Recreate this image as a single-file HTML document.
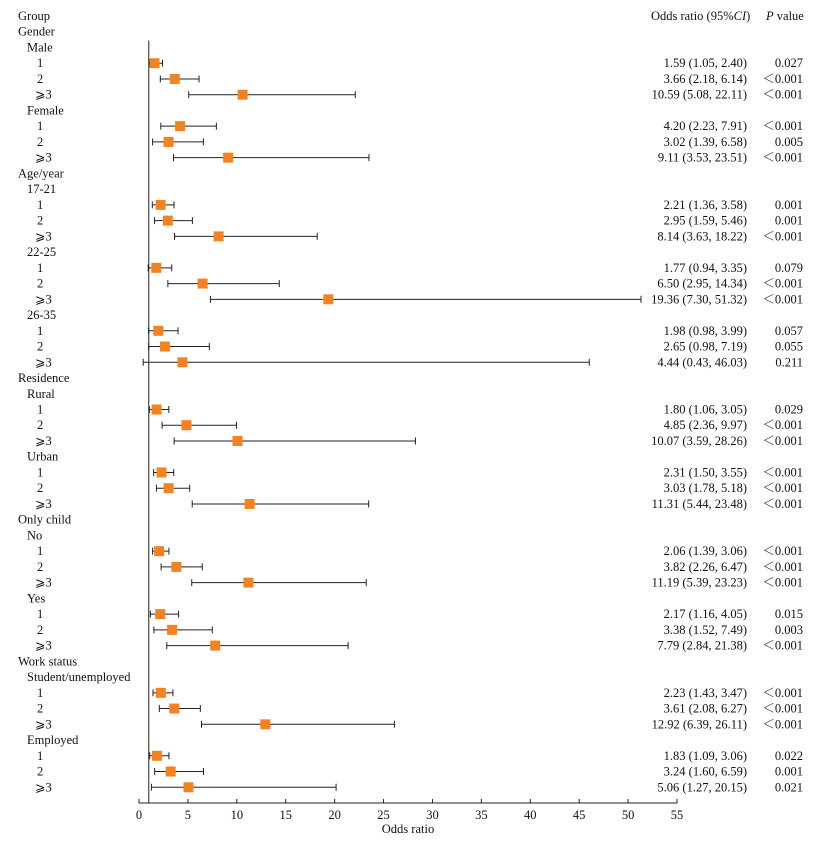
<!DOCTYPE html>
<html><head><meta charset="utf-8"><style>
body{margin:0;background:#fff;}
svg text{font-family:"Liberation Serif","Noto Serif CJK SC",serif;font-size:12.5px;fill:#111;}
</style></head><body>
<svg id="chart" width="823" height="841" xmlns="http://www.w3.org/2000/svg"></svg>
<script>
const labels=["Group","Gender","Male","1","2","≥3","Female","1","2","≥3","Age/year","17-21","1","2","≥3","22-25","1","2","≥3","26-35","1","2","≥3","Residence","Rural","1","2","≥3","Urban","1","2","≥3","Only child","No","1","2","≥3","Yes","1","2","≥3","Work status","Student/unemployed","1","2","≥3","Employed","1","2","≥3"];
const levels=[0,0,1,2,2,2,1,2,2,2,0,1,2,2,2,1,2,2,2,1,2,2,2,0,1,2,2,2,1,2,2,2,0,1,2,2,2,1,2,2,2,0,1,2,2,2,1,2,2,2];
const orVals=[null,null,null,1.59,3.66,10.59,null,4.20,3.02,9.11,null,null,2.21,2.95,8.14,null,1.77,6.50,19.36,null,1.98,2.65,4.44,null,null,1.80,4.85,10.07,null,2.31,3.03,11.31,null,null,2.06,3.82,11.19,null,2.17,3.38,7.79,null,null,2.23,3.61,12.92,null,1.83,3.24,5.06];
const lowVals=[null,null,null,1.05,2.18,5.08,null,2.23,1.39,3.53,null,null,1.36,1.59,3.63,null,0.94,2.95,7.30,null,0.98,0.98,0.43,null,null,1.06,2.36,3.59,null,1.50,1.78,5.44,null,null,1.39,2.26,5.39,null,1.16,1.52,2.84,null,null,1.43,2.08,6.39,null,1.09,1.60,1.27];
const highVals=[null,null,null,2.40,6.14,22.11,null,7.91,6.58,23.51,null,null,3.58,5.46,18.22,null,3.35,14.34,51.32,null,3.99,7.19,46.03,null,null,3.05,9.97,28.26,null,3.55,5.18,23.48,null,null,3.06,6.47,23.23,null,4.05,7.49,21.38,null,null,3.47,6.27,26.11,null,3.06,6.59,20.15];
const pVals=[null,null,null,"0.027","<0.001","<0.001",null,"<0.001","0.005","<0.001",null,null,"0.001","0.001","<0.001",null,"0.079","<0.001","<0.001",null,"0.057","0.055","0.211",null,null,"0.029","<0.001","<0.001",null,"<0.001","<0.001","<0.001",null,null,"<0.001","<0.001","<0.001",null,"0.015","0.003","<0.001",null,null,"<0.001","<0.001","<0.001",null,"0.022","0.001","0.021"];
const ticks=[0,5,10,15,20,25,30,35,40,45,50,55];

const svg=document.getElementById('chart');
const NS="http://www.w3.org/2000/svg";
const x=v=>139+v*(677-139)/55;
const y=i=>16+i*15.74;
const axisY=803;
function mk(t,a,p){const e=document.createElementNS(NS,t);for(const k in a)e.setAttribute(k,a[k]);(p||svg).appendChild(e);return e;}
function txt(s,xx,yy,anchor){const e=mk('text',{x:xx,y:yy,'text-anchor':anchor||'start','dominant-baseline':'central'});e.textContent=s;return e;}
const indents=[18,27,37];
labels.forEach((l,i)=>{
  let ix=indents[levels[i]];
  const t=txt(l.replace("≥","⩾"),l==="≥3"?35:ix,y(i));
  
  
});
const h1=txt("Odds ratio (95%",651,y(0));


const ci=mk('tspan',{'font-style':'italic'},h1);ci.textContent="CI";
const cp=mk('tspan',{},h1);cp.textContent=")";
const h2=txt("",766,y(0));


const pi=mk('tspan',{'font-style':'italic'},h2);pi.textContent="P";
const pv=mk('tspan',{},h2);pv.textContent=" value";
const ref=mk('line',{x1:x(1),x2:x(1),y1:y(2)-7,y2:axisY,stroke:'#222','stroke-width':1});


orVals.forEach((o,i)=>{
  if(o===null)return;
  const g=mk('g',{});
  
  
  const yy=y(i);
  mk('line',{x1:x(lowVals[i]),x2:x(highVals[i]),y1:yy,y2:yy,stroke:'#222','stroke-width':1},g);
  mk('line',{x1:x(lowVals[i]),x2:x(lowVals[i]),y1:yy-3.5,y2:yy+3.5,stroke:'#222','stroke-width':1},g);
  mk('line',{x1:x(highVals[i]),x2:x(highVals[i]),y1:yy-3.5,y2:yy+3.5,stroke:'#222','stroke-width':1},g);
  const m=mk('rect',{x:x(o)-5,y:yy-5,width:10,height:10,fill:'#f5821f'},g);
  
  
  const t=txt(o.toFixed(2)+" ("+lowVals[i].toFixed(2)+", "+highVals[i].toFixed(2)+")",747,yy,'end');
  
  
  const p=txt(pVals[i].replace("<","＜"),803,yy,'end');
  
  
});
const ax=mk('line',{x1:x(0),x2:x(55),y1:axisY,y2:axisY,stroke:'#222','stroke-width':1});


ticks.forEach(t=>{
  mk('line',{x1:x(t),x2:x(t),y1:axisY-4,y2:axisY,stroke:'#222','stroke-width':1});
  const l=txt(String(t),x(t),axisY+12,'middle');
  
  
});
const xt=txt("Odds ratio",x(27.5),axisY+26,'middle');


</script>
</body></html>
